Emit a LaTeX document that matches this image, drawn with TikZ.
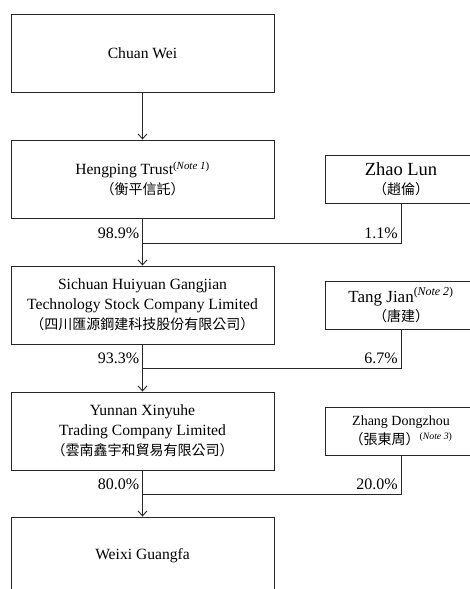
\documentclass[tikz,border=0pt]{standalone}
\usepackage{fontspec}
\setmainfont{Liberation Serif}
\newfontfamily\cjk{Noto Sans CJK TC}
\usetikzlibrary{arrows.meta,calc,positioning}
\newcommand{\note}[1]{\textsuperscript{(\textit{Note #1})}}
\newcommand{\zh}[1]{{\cjk\fontsize{14}{18}\selectfont #1}}

\begin{document}
\begin{tikzpicture}[x=1pt,y=1pt,
 entity/.style={draw=black!85,line width=0.9pt,align=center,
                minimum width=263pt,minimum height=78pt,inner sep=2pt,
                font=\fontsize{15.6}{20}\selectfont},
 holder/.style={draw=black!85,line width=0.9pt,align=center,
                minimum width=152pt,minimum height=48pt,inner sep=2pt},
 pct/.style={font=\fontsize{16}{18}\selectfont,inner sep=2pt},
 link/.style={draw=black!85,line width=0.9pt},
 arrow/.style={link,-{Straight Barb[length=5pt,width=9pt]}}]
\clip (0,0) rectangle (470,-589);
\fill[white] (0,0) rectangle (470,-589);
\node[entity] (chuan) at (142.5,-53) {Chuan Wei};
\node[entity] (heng) at (142.5,-179) {Hengping Trust\note{1}\\\zh{（衡平信託）}};
\node[entity] (sich) at (142.5,-305) {Sichuan Huiyuan Gangjian\\Technology Stock Company Limited\\\zh{（四川匯源鋼建科技股份有限公司）}};
\node[entity] (yunn) at (142.5,-431) {Yunnan Xinyuhe\\Trading Company Limited\\\zh{（雲南鑫宇和貿易有限公司）}};
\node[entity] (weixi) at (142.5,-556) {Weixi Guangfa};
\node[holder,font=\fontsize{18.5}{19}\selectfont] (zhao) at (401,-179) {Zhao Lun\\\zh{（趙倫）}};
\node[holder,font=\fontsize{17}{19}\selectfont] (tang) at (401,-305) {Tang Jian\note{2}\\\zh{（唐建）}};
\node[holder,font=\fontsize{14}{19}\selectfont] (zhang) at (401,-431) {Zhang Dongzhou\\\zh{（張東周）}\note{3}};
% junctions
\coordinate (j1) at (142.5,-243);
\coordinate (j2) at (142.5,-368);
\coordinate (j3) at (142.5,-494);
\coordinate (k1) at (zhao.south |- j1);
\coordinate (k2) at (tang.south |- j2);
\coordinate (k3) at (zhang.south |- j3);
\draw[arrow] (chuan) -- (heng);
\draw[arrow] (heng) -- (sich);
\draw[arrow] (sich) -- (yunn);
\draw[arrow] (yunn) -- (weixi);
\draw[link] (zhao.south) -- (k1) -- (j1);
\draw[link] (tang.south) -- (k2) -- (j2);
\draw[link] (zhang.south) -- (k3) -- (j3);
\node[pct,above left=2pt and 1pt of j1] (p1) {98.9\%};
\node[pct,above left=2pt and 1pt of k1] (q1) {1.1\%};
\node[pct,above left=2pt and 1pt of j2] (p2) {93.3\%};
\node[pct,above left=2pt and 1pt of k2] (q2) {6.7\%};
\node[pct,above left=2pt and 1pt of j3] (p3) {80.0\%};
\node[pct,above left=2pt and 1pt of k3] (q3) {20.0\%};
\end{tikzpicture}
\end{document}
